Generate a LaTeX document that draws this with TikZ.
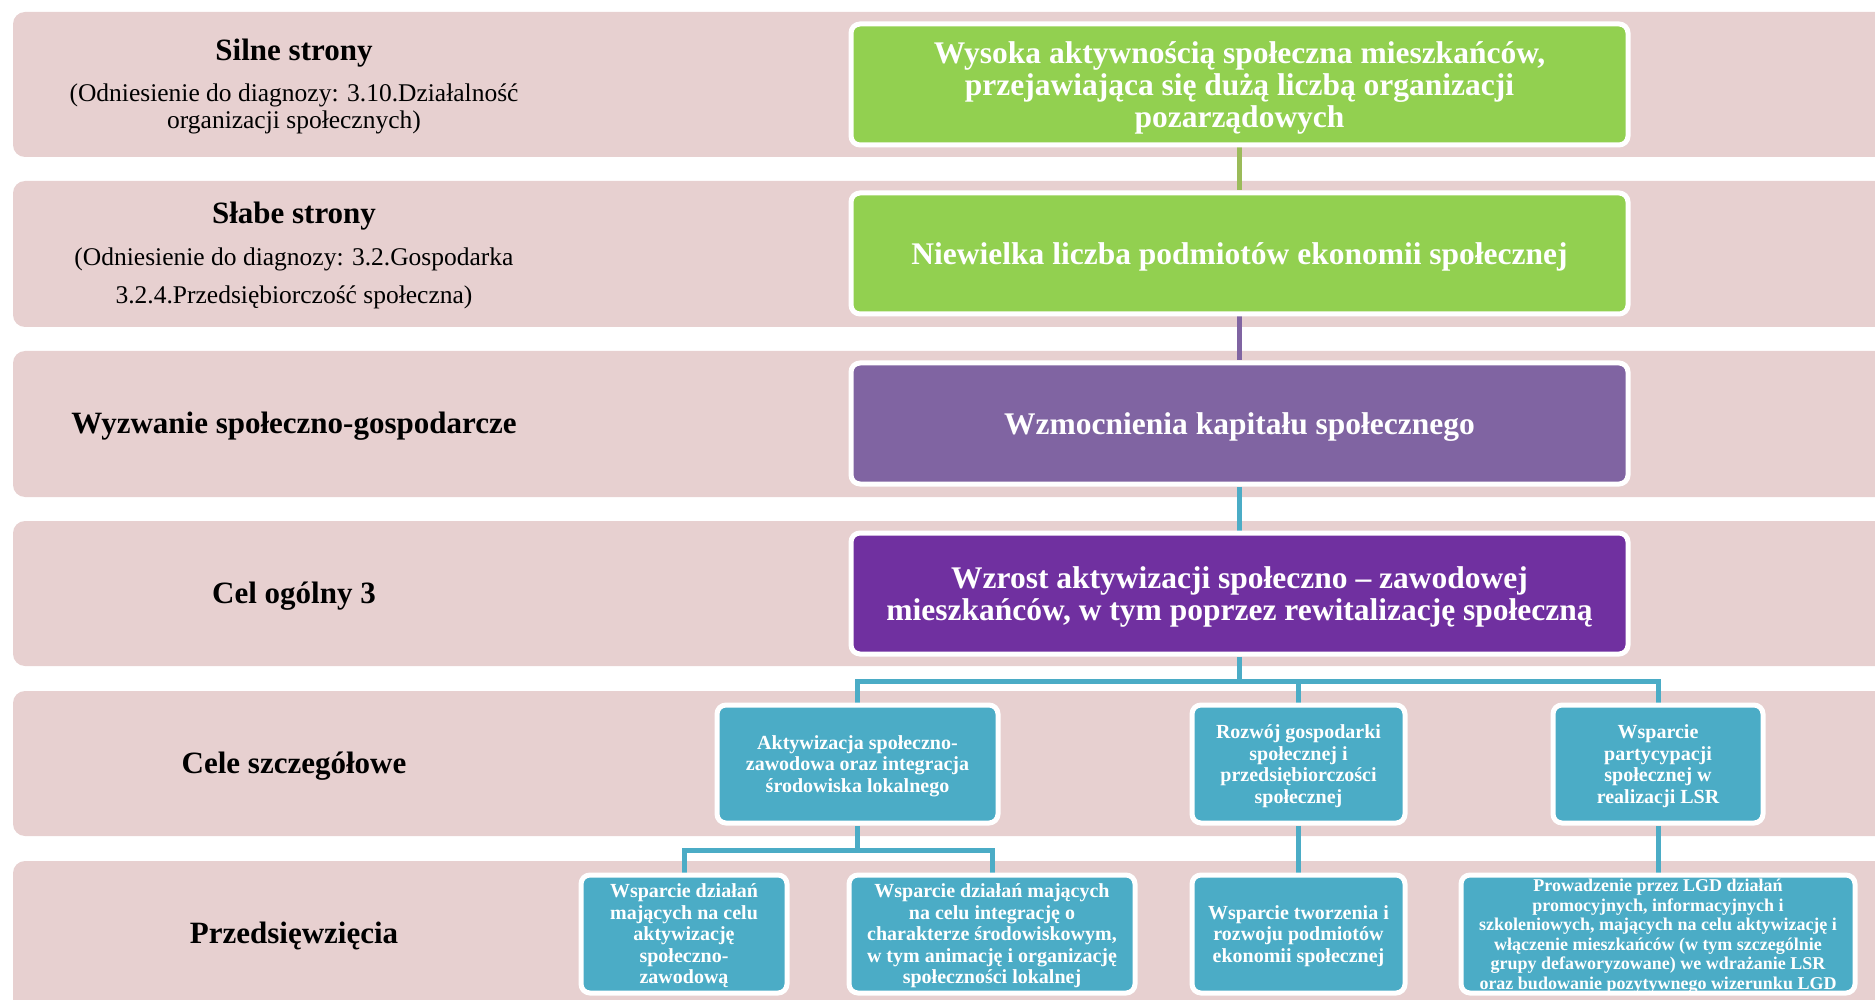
\documentclass[tikz,border=0pt]{standalone}
\usepackage{fontspec}
\setmainfont{Liberation Serif}
\usetikzlibrary{calc}
\definecolor{bandc}{HTML}{E7D0D0}
\definecolor{greenc}{HTML}{92D050}
\definecolor{olivec}{HTML}{9BBB59}
\definecolor{lpurple}{HTML}{8064A2}
\definecolor{dpurple}{HTML}{7030A0}
\definecolor{tealc}{HTML}{4BACC6}
\pgfdeclarelayer{bands}
\pgfdeclarelayer{links}
\pgfsetlayers{bands,links,main}
\tikzset{
  box/.style={rectangle, rounded corners=9, draw=white, line width=5, inner sep=0pt,
    align=center, text=white, text depth=0pt},
  mainbox/.style={box, minimum width=777, minimum height=121,
    font=\bfseries\fontsize{31.5}{32}\selectfont},
  smallbox/.style={box, fill=tealc, minimum height=118,
    font=\bfseries\fontsize{20}{21.5}\selectfont},
  lab/.style={font=\bfseries\fontsize{31}{36}\selectfont, align=center, text depth=0pt},
  sublab/.style={font=\fontsize{25.5}{27}\selectfont, align=center, text depth=0pt},
  conn/.style={line width=5},
  bandfill/.style={fill=bandc, rounded corners=12},
}
\begin{document}
\begin{tikzpicture}[x=1pt,y=-1pt]
\useasboundingbox (0,0) rectangle (1875,1000);
% main boxes
\node[mainbox, fill=greenc] (m1) at (1239.5,84.5) {Wysoka aktywnością społeczna mieszkańców,\\przejawiająca się dużą liczbą organizacji\\pozarządowych};
\node[mainbox, fill=greenc] (m2) at (1239.5,253.5) {Niewielka liczba podmiotów ekonomii społecznej};
\node[mainbox, fill=lpurple] (m3) at (1239.5,423.5) {Wzmocnienia kapitału społecznego};
\node[mainbox, fill=dpurple] (m4) at (1239.5,593.5) {Wzrost aktywizacji społeczno -- zawodowej\\mieszkańców, w tym poprzez rewitalizację społeczną};
% level 5
\node[smallbox, minimum width=281] (a) at (857.5,764) {Aktywizacja społeczno-\\zawodowa oraz integracja\\środowiska lokalnego};
\node[smallbox, minimum width=213] (b) at (1298.5,764) {Rozwój gospodarki\\społecznej i\\przedsiębiorczości\\społecznej};
\node[smallbox, minimum width=210] (c) at (1658,764) {Wsparcie\\partycypacji\\społecznej w\\realizacji LSR};
% level 6
\node[smallbox, minimum width=206] (d) at (684,934) {Wsparcie działań\\mających na celu\\aktywizację\\społeczno-\\zawodową};
\node[smallbox, minimum width=286] (e) at (992,934) {Wsparcie działań mających\\na celu integrację o\\charakterze środowiskowym,\\w tym animację i organizację\\społeczności lokalnej};
\node[smallbox, minimum width=213] (f) at (1298.5,934) {Wsparcie tworzenia i\\rozwoju podmiotów\\ekonomii społecznej};
\node[smallbox, minimum width=394, font=\bfseries\fontsize{18}{19.5}\selectfont] (g) at (1658,934) {Prowadzenie przez LGD działań\\promocyjnych, informacyjnych i\\szkoleniowych, mających na celu aktywizację i\\włączenie mieszkańców (w tym szczególnie\\grupy defaworyzowane) we wdrażanie LSR\\oraz budowanie pozytywnego wizerunku LGD};
% left labels
\node[lab] (l1) at (294,50) {Silne strony};
\node[sublab] (l1s) at (294,106.5) {(Odniesienie do diagnozy: 3.10.Działalność\\organizacji społecznych)};
\node[lab] (l2) at (294,213) {Słabe strony};
\node[sublab, font=\fontsize{25.5}{38}\selectfont] (l2s) at (294,276) {(Odniesienie do diagnozy: 3.2.Gospodarka\\3.2.4.Przedsiębiorczość społeczna)};
\node[lab] (l3) at (294,423) {Wyzwanie społeczno-gospodarcze};
\node[lab] (l4) at (294,593) {Cel ogólny 3};
\node[lab] (l5) at (294,763) {Cele szczegółowe};
\node[lab] (l6) at (294,933) {Przedsięwzięcia};
% connectors
\coordinate (bus5) at (1239.5,681);
\coordinate (bus6) at (857.5,850);
\begin{pgfonlayer}{links}
\draw[conn, olivec] (m1.south) -- (m2.north);
\draw[conn, lpurple] (m2.south) -- (m3.north);
\draw[conn, tealc] (m3.south) -- (m4.north);
\draw[conn, tealc] (m4.south) -- (bus5);
\draw[conn, tealc] (a.north) -- (a.north |- bus5) -- (c.north |- bus5) -- (c.north);
\draw[conn, tealc] (b.north) -- (b.north |- bus5);
\draw[conn, tealc] (a.south) -- (bus6);
\draw[conn, tealc] (d.north) -- (d.north |- bus6) -- (e.north |- bus6) -- (e.north);
\draw[conn, tealc] (b.south) -- (f.north);
\draw[conn, tealc] (c.south) -- (g.north);
\end{pgfonlayer}
% bands
\begin{pgfonlayer}{bands}
\fill[bandfill] (13,12) rectangle (1900,157);
\fill[bandfill] (13,181) rectangle (1900,327);
\fill[bandfill] (13,351) rectangle (1900,497);
\fill[bandfill] (13,521) rectangle (1900,666);
\fill[bandfill] (13,691) rectangle (1900,836);
\fill[bandfill] (13,861) rectangle (1900,1020);
\end{pgfonlayer}
\end{tikzpicture}
\end{document}
